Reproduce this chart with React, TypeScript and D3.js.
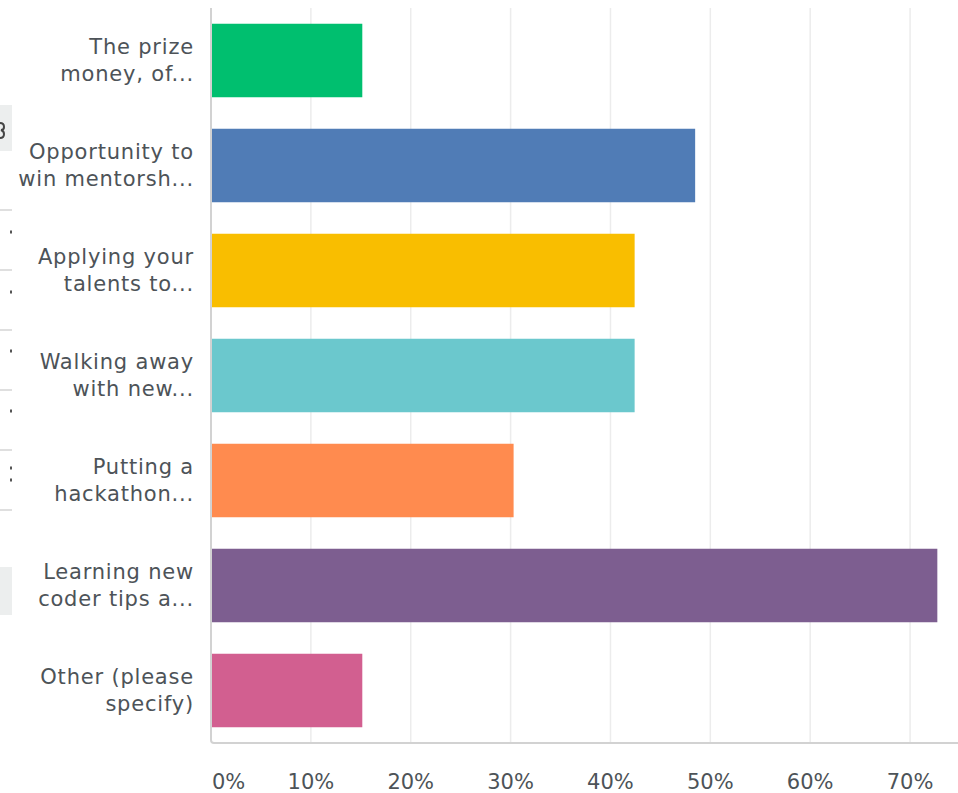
import * as d3 from 'd3';

const width = 958;
const height = 793;

// survey answers, labels already truncated the way the chart shows them
const labels: string[][] = [
    ['The prize', 'money, of...'],
    ['Opportunity to', 'win mentorsh...'],
    ['Applying your', 'talents to...'],
    ['Walking away', 'with new...'],
    ['Putting a', 'hackathon...'],
    ['Learning new', 'coder tips a...'],
    ['Other (please', 'specify)'],
];
const shares = [0.1515, 0.4848, 0.4242, 0.4242, 0.303, 0.7273, 0.1515];
const colors = ['#00bf6f', '#507cb6', '#f9be00', '#6bc8cd', '#ff8b4f', '#7d5e90', '#d25f90'];
const ticks = [0, 0.1, 0.2, 0.3, 0.4, 0.5, 0.6, 0.7];

// bits of a neighbouring panel cut off at the left edge
const edgeRules = [210, 270, 330, 390, 450, 510];
const edgeDots = [232, 292, 351, 411, 468, 480];

const font = '"DejaVu Sans", "Noto Sans", sans-serif';
const textColor = '#4d5358';

export default function App() {
    const top = 8;
    const bottom = 743;
    const x = d3.scaleLinear().domain([0, 0.75]).range([211, 960]);
    const y = d3
        .scaleBand<number>()
        .domain(d3.range(shares.length))
        .range([top, bottom])
        .paddingInner(0.3)
        .paddingOuter(0.15);

    return (
        <svg
            width={width}
            height={height}
            style={{ position: 'absolute', left: 0, top: 0, background: '#fff' }}
            fontFamily={font}
        >
            {/* left edge leftovers */}
            <rect x={0} y={105} width={12} height={46} fill="#eceeee" />
            <path d="M0,123 Q4,123 4,127 Q4,130 1,130 Q4,131 4,134 Q4,138 0,138" fill="none" stroke="#444" strokeWidth={2} />
            <rect x={0} y={567} width={12} height={48} fill="#eceeee" />
            {edgeRules.map((ry) => (
                <line key={ry} x1={0} x2={12} y1={ry} y2={ry} stroke="#d4d4d4" strokeWidth={1.5} />
            ))}
            {edgeDots.map((dy) => (
                <rect key={dy} x={10} y={dy - 1.5} width={2} height={3} fill="#555" />
            ))}

            {/* grid */}
            {ticks.slice(1).map((t) => (
                <line
                    key={t}
                    x1={x(t)}
                    x2={x(t)}
                    y1={top}
                    y2={bottom}
                    stroke="#ececec"
                    strokeWidth={1.5}
                />
            ))}

            {/* bars */}
            {shares.map((v, i) => (
                <rect
                    key={i}
                    x={x(0)}
                    y={y(i)}
                    width={x(v) - x(0)}
                    height={y.bandwidth()}
                    fill={colors[i]}
                />
            ))}

            {/* axis frame */}
            <path
                d={`M${x(0)},${top} V${bottom - 3} Q${x(0)},${bottom} ${x(0) + 3},${bottom} H${width}`}
                fill="none"
                stroke="#d2d2d2"
                strokeWidth={2}
            />

            {/* category labels */}
            {labels.map((lines, i) => {
                const cy = (y(i) ?? 0) + y.bandwidth() / 2;
                return (
                    <text key={i} textAnchor="end" fontSize={21} letterSpacing={0.8} fill={textColor}>
                        {lines.map((l, j) => (
                            <tspan key={j} x={194} y={cy + (j - 0.5) * 27 + 7}>
                                {l}
                            </tspan>
                        ))}
                    </text>
                );
            })}

            {/* tick labels */}
            {ticks.map((t) => (
                <text
                    key={t}
                    x={t === 0 ? x(0) + 1 : x(t)}
                    y={789}
                    textAnchor={t === 0 ? 'start' : 'middle'}
                    fontSize={21}
                    fill={textColor}
                >
                    {d3.format('.0%')(t)}
                </text>
            ))}
        </svg>
    );
}
